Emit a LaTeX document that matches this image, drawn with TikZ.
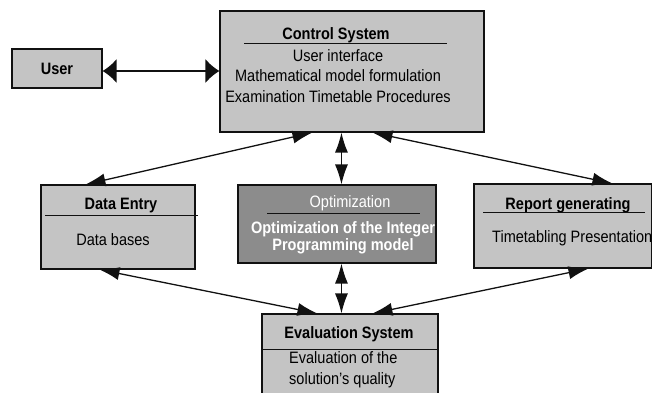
\documentclass[tikz,border=0pt]{standalone}
\usepackage{fontspec}
\setmainfont{Liberation Sans}[FakeStretch=0.88]
\usepackage{tikz}
\usetikzlibrary{arrows.meta,calc,positioning}
\definecolor{BoxLight}{HTML}{C4C4C4}
\definecolor{BoxDark}{HTML}{8C8C8C}
\definecolor{InkDark}{HTML}{111111}
\tikzset{
  box/.style={rectangle, draw=InkDark, line width=1.1pt, fill=BoxLight,
              inner sep=0pt},
  darkbox/.style={box, fill=BoxDark},
  head/.style={font=\fontsize{16.5}{18}\selectfont\bfseries, inner sep=0pt},
  body/.style={font=\fontsize{16.5}{20.5}\selectfont, inner sep=0pt},
  rule/.style={line width=0.9pt, draw=InkDark},
  link/.style={line width=1.3pt, draw=InkDark,
               {Latex[length=20pt,width=13pt]}-{Latex[length=20pt,width=13pt]}},
  hlink/.style={line width=1.3pt, draw=InkDark,
               {Latex[length=14pt,width=24pt]}-{Latex[length=14pt,width=24pt]}},
}

\begin{document}
\begin{tikzpicture}[x=1pt,y=-1pt]
\useasboundingbox (0,0) rectangle (652,392);
% ---------------------------------------------------------------- boxes
\node[box, minimum width=90pt, minimum height=39pt] (user) at (57,68.5) {};
\node[box, minimum width=264pt, minimum height=121pt] (ctrl) at (352,71.5) {};
\node[box, minimum width=154pt, minimum height=84pt] (data) at (118,227) {};
\node[darkbox, minimum width=198pt, minimum height=78pt] (opt) at (337,224) {};
\node[box, minimum width=178pt, minimum height=84pt] (rep) at (563,226) {};
\node[box, minimum width=176pt, minimum height=92pt] (eval) at (350,360) {};
% ---------------------------------------------------------------- texts
\node[head] (userT) at (57,69) {User};
% control system
\node[head] (ctrlT) at (336,35) {Control System};
\draw[rule] (244,43) -- (447,43);
\node[body, align=center] (ctrlB) at (338,76) {User interface\\Mathematical model formulation\\Examination Timetable Procedures};
% data entry
\node[head] (dataT) at (121,206) {Data Entry};
\draw[rule] (45,215) -- (198,215);
\node[body] (dataB) at (113,240) {Data bases};
% optimization
\node[body, text=white] (optT) at (350,203) {Optimization};
\draw[rule] (267,213) -- (420,213);
\node[body, text=white, align=center, font=\fontsize{16.5}{17}\selectfont\bfseries] (optB) at (343,238) {Optimization of the Integer\\Programming model};
% report generating
\node[head] (repT) at (568,205) {Report generating};
\draw[rule] (483,212) -- (645,212);
\node[body, anchor=west] (repB) at (492,238) {Timetabling Presentation};
% evaluation system
\node[head] (evalT) at (349,334) {Evaluation System};
\draw[rule] (eval.west |- 0,349) -- (eval.east |- 0,349);
\node[body, align=left, anchor=west] (evalB) at (289,369.5) {Evaluation of the\\solution's quality};
% ---------------------------------------------------------------- connectors
\draw[hlink] (user.east |- 0,71) -- (ctrl.west |- 0,71);
\draw[link] ([xshift=93pt]ctrl.south west) -- ([xshift=45pt]data.north west);
\draw[link] ([xshift=122pt]ctrl.south west) -- ([xshift=104pt]opt.north west);
\draw[link] ([xshift=153pt]ctrl.south west) -- ([xshift=139pt]rep.north west);
\draw[link] ([xshift=104pt]opt.south west) -- ([xshift=80pt]eval.north west);
\draw[link] ([xshift=59pt]data.south west) -- ([xshift=56pt]eval.north west);
\draw[link] ([xshift=115pt]rep.south west) -- ([xshift=111pt]eval.north west);
\end{tikzpicture}
\end{document}
